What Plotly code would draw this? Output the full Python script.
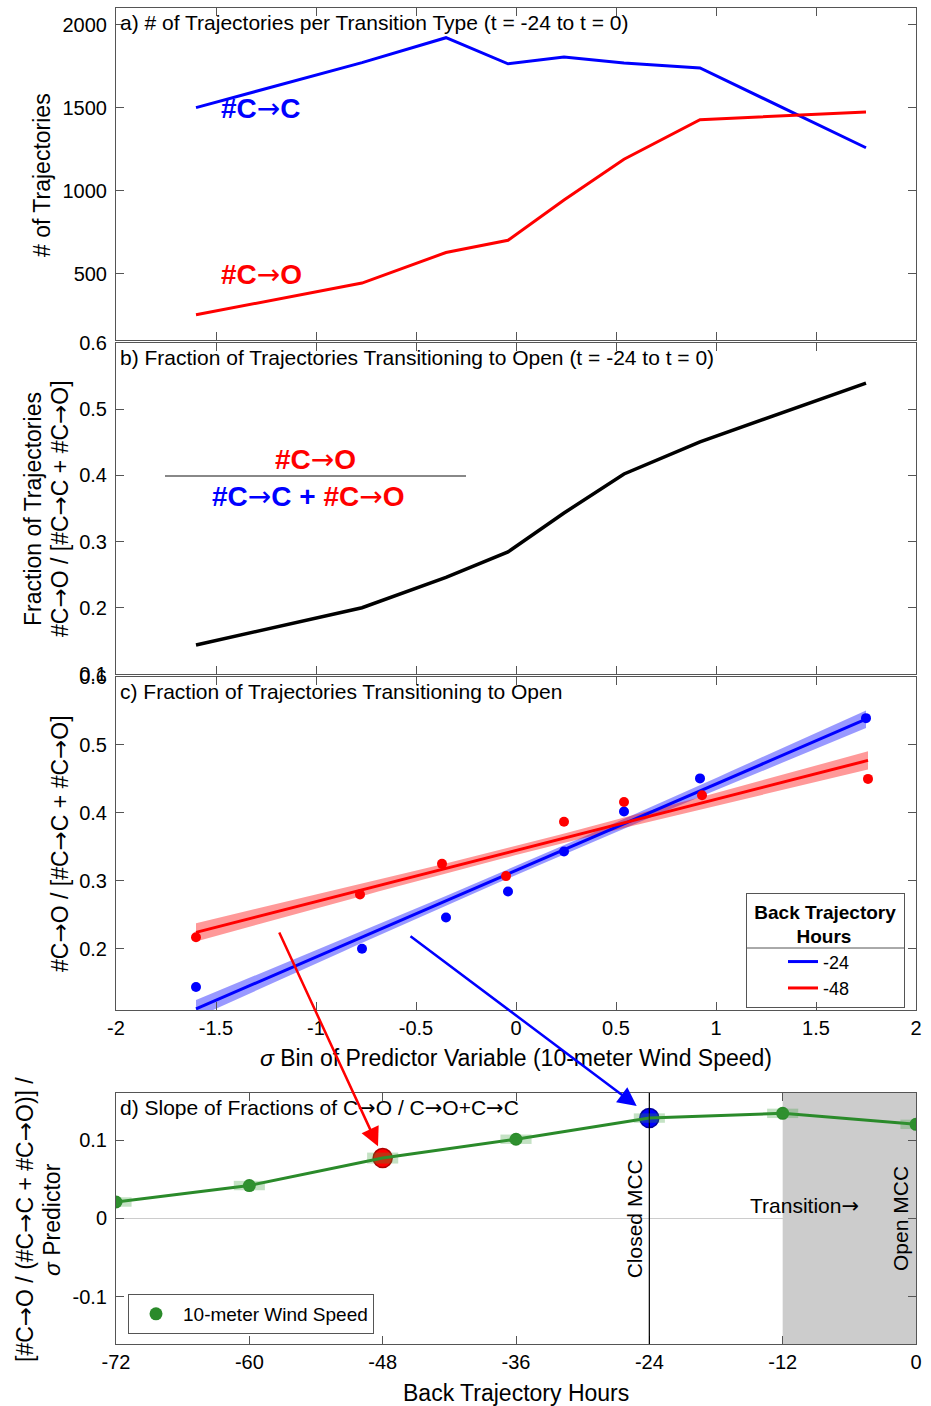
import numpy as np
import plotly.graph_objects as go

# ---------------- data ----------------
# sigma bins of 10-m wind speed (t = -24 back trajectories)
sigma_bins_24 = [-1.60, -0.77, -0.35, -0.04, 0.24, 0.54, 0.92, 1.75]
count_c_to_c = [1500, 1771, 1921, 1764, 1805, 1768, 1739, 1258]
count_c_to_o = [252, 443, 627, 701, 943, 1189, 1427, 1473]

# sigma bins and fractions for t = -48 back trajectories
sigma_bins_48 = [-1.60, -0.78, -0.37, -0.05, 0.24, 0.54, 0.93, 1.76]
frac_open_48 = [0.217, 0.280, 0.325, 0.307, 0.387, 0.416, 0.426, 0.450]

band_end_halfwidth_24 = 0.013
band_end_halfwidth_48 = 0.0135

# panel d: slope of fraction vs sigma for each back-trajectory hour
back_hours = [-72, -60, -48, -36, -24, -12, 0]
slope_wind = [0.021, 0.042, 0.077, 0.101, 0.128, 0.134, 0.120]
slope_err = [0.006, 0.006, 0.007, 0.006, 0.006, 0.006, 0.006]

sigma_ticks = [-2, -1.5, -1, -0.5, 0, 0.5, 1, 1.5, 2]
sigma_ticktext = ["-2", "-1.5", "-1", "-0.5", "0", "0.5", "1", "1.5", "2"]
count_ticks = [500, 1000, 1500, 2000]
frac_ticks_b = [0.1, 0.2, 0.3, 0.4, 0.5, 0.6]
frac_ticks_c = [0.2, 0.3, 0.4, 0.5, 0.6]
hour_ticks = [-72, -60, -48, -36, -24, -12, 0]
slope_ticks = [-0.1, 0, 0.1]
slope_ticktext = ["-0.1", "0", "0.1"]

# ---------------- styling ----------------
FONT = "Liberation Sans, Arial, Helvetica, sans-serif"
BLUE = "#0000ff"
RED = "#ff0000"
GREEN = "#2a8a2a"
AX = "#555555"
ARW = "<span style='font-family:DejaVu Sans;font-weight:normal'>→</span>"

frac_open_24 = [o / (c + o) for c, o in zip(count_c_to_c, count_c_to_o)]

fig = go.Figure()

# ---- panel a ----
fig.add_trace(go.Scatter(x=sigma_bins_24, y=count_c_to_c, mode="lines",
                         line=dict(color=BLUE, width=3), xaxis="x", yaxis="y",
                         showlegend=False))
fig.add_trace(go.Scatter(x=sigma_bins_24, y=count_c_to_o, mode="lines",
                         line=dict(color=RED, width=3), xaxis="x", yaxis="y",
                         showlegend=False))

# ---- panel b ----
fig.add_trace(go.Scatter(x=sigma_bins_24, y=frac_open_24, mode="lines",
                         line=dict(color="black", width=3.5), xaxis="x2", yaxis="y2",
                         showlegend=False))


# ---- panel c ----
def fit_band(xs, ys, end_hw):
    xs = np.asarray(xs, float)
    ys = np.asarray(ys, float)
    p = np.polyfit(xs, ys, 1)
    xf = np.linspace(xs.min(), xs.max(), 60)
    yf = np.polyval(p, xf)
    n = len(xs)
    xm = xs.mean()
    sxx = ((xs - xm) ** 2).sum()
    shape = np.sqrt(1.0 / n + (xf - xm) ** 2 / sxx)
    hw = end_hw * shape / shape.max()
    return xf, yf, hw


series_c = [
    (sigma_bins_24, frac_open_24, band_end_halfwidth_24, BLUE, "rgba(0,0,255,0.4)", "-24"),
    (sigma_bins_48, frac_open_48, band_end_halfwidth_48, RED, "rgba(255,0,0,0.4)", "-48"),
]
for xs, ys, hw_end, col, fillc, name in series_c:
    xf, yf, hw = fit_band(xs, ys, hw_end)
    fig.add_trace(go.Scatter(x=np.concatenate([xf, xf[::-1]]),
                             y=np.concatenate([yf + hw, (yf - hw)[::-1]]),
                             fill="toself", fillcolor=fillc, line=dict(width=0),
                             mode="lines", hoverinfo="skip", showlegend=False,
                             xaxis="x3", yaxis="y3"))

for xs, ys, hw_end, col, fillc, name in series_c:
    xf, yf, hw = fit_band(xs, ys, hw_end)
    fig.add_trace(go.Scatter(x=xf, y=yf, mode="lines", line=dict(color=col, width=3),
                             name=name, legend="legend", xaxis="x3", yaxis="y3"))
    fig.add_trace(go.Scatter(x=xs, y=ys, mode="markers",
                             marker=dict(color=col, size=10), showlegend=False,
                             xaxis="x3", yaxis="y3"))

# ---- panel d ----
fig.add_trace(go.Scatter(x=back_hours, y=slope_wind, mode="markers",
                         marker=dict(color=GREEN, size=13), name="10-meter Wind Speed",
                         legend="legend2", xaxis="x4", yaxis="y4"))
hl_48 = back_hours.index(-48)
hl_24 = back_hours.index(-24)
fig.add_trace(go.Scatter(x=[back_hours[hl_48]], y=[slope_wind[hl_48]], mode="markers",
                         marker=dict(color=RED, size=19, line=dict(color="#b00000", width=1.5)),
                         showlegend=False, xaxis="x4", yaxis="y4"))
fig.add_trace(go.Scatter(x=[back_hours[hl_24]], y=[slope_wind[hl_24]], mode="markers",
                         marker=dict(color=BLUE, size=19, line=dict(color="#0000a0", width=1.5)),
                         showlegend=False, xaxis="x4", yaxis="y4"))
fig.add_trace(go.Scatter(x=back_hours, y=slope_wind, mode="lines",
                         line=dict(color=GREEN, width=3), showlegend=False,
                         xaxis="x4", yaxis="y4"))


# ---------------- layout ----------------
def ax_style(**kw):
    d = dict(showline=True, linecolor=AX, linewidth=1, mirror="ticks", ticks="inside",
             ticklen=8, tickcolor=AX, showgrid=False, zeroline=False,
             tickfont=dict(family=FONT, size=20, color="black"))
    d.update(kw)
    return d


dom_a = [0.7515, 1.0]
dom_b = [0.5015, 0.7493]
dom_c = [0.25, 0.4993]
dom_d = [0.0, 0.1879]
NB = "\u00a0"

layout = dict(
    width=931, height=1406,
    margin=dict(l=116, r=15, t=8, b=62, autoexpand=False),
    paper_bgcolor="white", plot_bgcolor="white",
    font=dict(family=FONT, size=20, color="black"),
    xaxis=ax_style(domain=[0, 1], anchor="y", range=[-2, 2], tickvals=sigma_ticks,
                   showticklabels=False),
    yaxis=ax_style(domain=dom_a, anchor="x", range=[100, 2100], tickvals=count_ticks,
                   ticktext=[str(v) for v in count_ticks], ticklabelstandoff=4),
    xaxis2=ax_style(domain=[0, 1], anchor="y2", range=[-2, 2], tickvals=sigma_ticks,
                    showticklabels=False),
    yaxis2=ax_style(domain=dom_b, anchor="x2", range=[0.1, 0.6], tickvals=frac_ticks_b,
                    ticktext=[f"{v:.1f}" for v in frac_ticks_b], ticklabelstandoff=4),
    xaxis3=ax_style(domain=[0, 1], anchor="y3", range=[-2, 2], tickvals=sigma_ticks,
                    ticktext=sigma_ticktext),
    yaxis3=ax_style(domain=dom_c, anchor="x3", range=[0.11, 0.6], tickvals=frac_ticks_c,
                    ticktext=[f"{v:.1f}" for v in frac_ticks_c], ticklabelstandoff=4),
    xaxis4=ax_style(domain=[0, 1], anchor="y4", range=[-72, 0], tickvals=hour_ticks,
                    ticktext=[str(v) for v in hour_ticks]),
    yaxis4=ax_style(domain=dom_d, anchor="x4", range=[-0.16, 0.16], tickvals=slope_ticks,
                    ticktext=slope_ticktext, zeroline=True, zerolinecolor="#cccccc",
                    zerolinewidth=1, ticklabelstandoff=4),
    legend=dict(x=0.7875, y=0.3376, xanchor="left", yanchor="top",
                bgcolor="rgba(255,255,255,0)", bordercolor=AX, borderwidth=1,
                font=dict(family=FONT, size=18, color="black"),
                title=dict(text="<b>" + NB + "Back Trajectory" + NB + "<br>" + NB * 9 + "Hours</b>",
                           side="top", font=dict(family=FONT, size=19, color="black")),
                indentation=36, tracegroupgap=0),
    legend2=dict(x=0.015, y=0.0075, xanchor="left", yanchor="bottom",
                 bgcolor="white", bordercolor=AX, borderwidth=1, itemwidth=44,
                 font=dict(family=FONT, size=19, color="black")),
)
fig.update_layout(**layout)

shapes = []
# panel b fraction bar
shapes.append(dict(type="line", xref="x2", yref="y2", x0=-1.755, x1=-0.25, y0=0.3991, y1=0.3991,
                   line=dict(color="#888888", width=2)))
# panel d: transition region, closed MCC line
shapes.append(dict(type="rect", xref="x4", yref="y4 domain", x0=-12, x1=0, y0=0, y1=1,
                   fillcolor="#cccccc", line=dict(width=0), layer="below"))
shapes.append(dict(type="line", xref="x4", yref="y4 domain", x0=-24, x1=-24, y0=0, y1=1,
                   line=dict(color="black", width=1.2)))
# panel d: slope uncertainty boxes
for h, s, e in zip(back_hours, slope_wind, slope_err):
    shapes.append(dict(type="rect", xref="x4", yref="y4", x0=h - 1.4, x1=h + 1.4,
                       y0=s - e, y1=s + e, fillcolor="rgba(60,160,60,0.3)",
                       line=dict(width=0), layer="above"))
# legend title separator (legend background is transparent so it shows)
shapes.append(dict(type="line", xref="paper", yref="paper", x0=0.7875, x1=0.985,
                   y0=(1344 - 948) / 1336, y1=(1344 - 948) / 1336,
                   line=dict(color=AX, width=1), layer="above"))
fig.update_layout(shapes=shapes)

ann = []
TF = dict(family=FONT, size=21, color="black")
LF = dict(family=FONT, size=23, color="black")


def panel_title(text, xa, ya):
    return dict(text=text, xref=f"{xa} domain", yref=f"{ya} domain", x=0, y=1,
                xanchor="left", yanchor="top", xshift=2, yshift=-1, showarrow=False, font=TF)


ann.append(panel_title("a) # of Trajectories per Transition Type (t = -24 to t = 0)", "x", "y"))
ann.append(panel_title("b) Fraction of Trajectories Transitioning to Open (t = -24 to t = 0)", "x2", "y2"))
ann.append(panel_title("c) Fraction of Trajectories Transitioning to Open", "x3", "y3"))
ann.append(panel_title(f"d) Slope of Fractions of C{ARW}O / C{ARW}O+C{ARW}C", "x4", "y4"))


def ytitle(text, xpx, ypx):
    return dict(text=text, xref="paper", yref="paper", x=(xpx - 116) / 800,
                y=(1344 - ypx) / 1336, xanchor="center", yanchor="middle",
                textangle=-90, showarrow=False, font=LF)


ann.append(ytitle("# of Trajectories", 42, 175))
ann.append(ytitle("Fraction of Trajectories", 33, 509))
ann.append(ytitle(f"#C{ARW}O / [#C{ARW}C + #C{ARW}O]", 60, 509))
ann.append(ytitle(f"#C{ARW}O / [#C{ARW}C + #C{ARW}O]", 60, 844))
ann.append(ytitle(f"[#C{ARW}O / (#C{ARW}C + #C{ARW}O)] /", 25, 1220))
ann.append(ytitle("<i>σ</i> Predictor", 52, 1220))

ann.append(dict(text="<i>σ</i> Bin of Predictor Variable (10-meter Wind Speed)", xref="paper",
                yref="paper", x=0.5, y=(1344 - 1058) / 1336, xanchor="center",
                yanchor="middle", showarrow=False, font=LF))
ann.append(dict(text="Back Trajectory Hours", xref="paper", yref="paper", x=0.5,
                y=(1344 - 1393) / 1336, xanchor="center", yanchor="middle",
                showarrow=False, font=LF))

BF = 28
ann.append(dict(text=f"<b>#C{ARW}C</b>", xref="x", yref="y", x=-1.275, y=1492, showarrow=False,
                font=dict(family=FONT, size=BF, color=BLUE)))
ann.append(dict(text=f"<b>#C{ARW}O</b>", xref="x", yref="y", x=-1.275, y=496, showarrow=False,
                font=dict(family=FONT, size=BF, color=RED)))
ann.append(dict(text=f"<b>#C{ARW}O</b>", xref="x2", yref="y2", x=-1.005, y=0.4233, showarrow=False,
                font=dict(family=FONT, size=BF, color=RED)))
ann.append(dict(text=f"<b><span style='color:#0000ff'>#C{ARW}C</span> + "
                     f"<span style='color:#ff0000'>#C{ARW}O</span></b>",
                xref="x2", yref="y2", x=-1.0425, y=0.3674, showarrow=False,
                font=dict(family=FONT, size=BF, color=BLUE)))

# panel d texts
ann.append(dict(text="Closed MCC", xref="x4", yref="y4", x=-24, y=0, xanchor="right",
                yanchor="middle", xshift=-1, textangle=-90, showarrow=False, font=TF))
ann.append(dict(text="Open MCC", xref="x4", yref="y4", x=0, y=0, xanchor="right",
                yanchor="middle", xshift=-2, textangle=-90, showarrow=False, font=TF))
ann.append(dict(text=f"Transition{ARW}", xref="x4", yref="y4", x=-10.0, y=0.0157,
                xanchor="center", yanchor="middle", showarrow=False, font=TF))

# arrows linking panel c fits to panel d points
ann.append(dict(text="", x=-48.42, y=0.092, xref="x4", yref="y4",
                ax=-57.37, ay=0.3664, axref="x4", ayref="y4", showarrow=True,
                arrowhead=2, arrowsize=1.5, arrowwidth=2.5, arrowcolor=RED, standoff=0))
ann.append(dict(text="", x=-25.14, y=0.1434, xref="x4", yref="y4",
                ax=-45.63, ay=0.3613, axref="x4", ayref="y4", showarrow=True,
                arrowhead=2, arrowsize=1.5, arrowwidth=2.5, arrowcolor=BLUE, standoff=0))

fig.update_layout(annotations=ann)

fig.write_html("out.html")
